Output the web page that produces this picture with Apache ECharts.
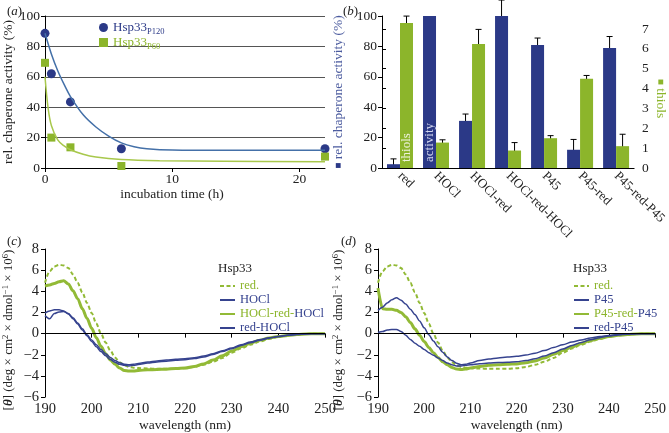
<!DOCTYPE html>
<html>
<head>
<meta charset="utf-8">
<script src="https://cdn.jsdelivr.net/npm/echarts@6/dist/echarts.min.js"></script>
<style>
html, body { margin: 0; padding: 0; background: #fff; }
#main { width: 669px; height: 433px; }
</style>
</head>
<body>
<div id="main"></div>
<script>
// (a) chaperone activity after incubation
var timeH = [0, 0.5, 2, 6, 22];
var p120 = [88.6, 62, 43.5, 12.7, 12.7];
var p60 = [69.2, 20, 13.6, 1.3, 7.5];
// fitted curves
var fitP120Time = [0, 0.5, 1, 1.5, 2, 3, 4, 5, 6, 7, 8, 10, 14, 22];
var fitP120 = [88.6, 75, 64, 55, 47, 35, 27, 21, 16.5, 14, 12.7, 11.8, 11.6, 11.6];
var fitP60Time = [0, 0.25, 0.5, 1, 1.5, 2, 3, 4, 6, 9, 14, 22];
var fitP60 = [60, 39, 28, 18.5, 14.5, 12, 9, 7.2, 5.6, 4.8, 4.4, 4.1];
var timeTicks = [0, 10, 20];

// (b) activity and thiols per condition
var conditions = ['red', 'HOCl', 'HOCl-red', 'HOCl-red-HOCl', 'P45', 'P45-red', 'P45-red-P45'];
var activity = [2.5, 100, 31, 100, 81, 12, 79];
var activityErr = [3.5, 0, 4.5, 10.5, 4.5, 6.8, 7.5];
var thiols = [7.3, 1.28, 6.25, 0.88, 1.5, 4.5, 1.1];
var thiolsErr = [0.35, 0.14, 0.73, 0.4, 0.13, 0.16, 0.6];

// (c), (d) CD spectra
var wavelength = [190, 191, 192, 193, 194, 195, 196, 197, 198, 199, 200, 201, 202, 203, 204, 205, 206, 207, 208, 209, 210,
  212, 214, 216, 218, 220, 222, 224, 226, 228, 230, 232, 234, 236, 238, 240, 242, 244, 246, 248, 250];
var cdRed = [4.8, 5.9, 6.35, 6.5, 6.45, 6.2, 5.6, 4.8, 3.9, 2.9, 1.95, 0.95, 0.0, -0.85, -1.6, -2.25, -2.7, -3.0, -3.15, -3.22, -3.26,
  -3.3, -3.32, -3.33, -3.32, -3.27, -3.15, -2.95, -2.65, -2.3, -1.8, -1.4, -1.05, -0.75, -0.5, -0.3, -0.16, -0.07, -0.03, -0.01, 0];
var cdHOCl = [1.7, 1.4, 1.9, 2.05, 2.1, 1.9, 1.5, 1.0, 0.45, -0.1, -0.6, -1.05, -1.5, -1.9, -2.25, -2.55, -2.75, -2.9, -2.95, -2.9, -2.82,
  -2.68, -2.58, -2.5, -2.43, -2.37, -2.28, -2.12, -1.9, -1.62, -1.35, -1.05, -0.8, -0.58, -0.4, -0.26, -0.15, -0.07, -0.03, -0.01, 0];
var cdHOClRedHOCl = [4.5, 4.6, 4.75, 4.9, 5.0, 4.7, 4.05, 3.3, 2.35, 1.45, 0.5, -0.4, -1.2, -1.9, -2.5, -2.9, -3.25, -3.48, -3.54, -3.54, -3.48,
  -3.42, -3.39, -3.36, -3.3, -3.26, -3.1, -2.86, -2.5, -2.1, -1.65, -1.25, -0.9, -0.62, -0.42, -0.28, -0.17, -0.08, -0.03, -0.01, 0];
var cdRedHOCl = [1.95, 2.15, 2.25, 2.25, 2.15, 1.85, 1.4, 0.9, 0.35, -0.2, -0.75, -1.25, -1.7, -2.1, -2.45, -2.7, -2.9, -3.0, -3.05, -3.0, -2.92,
  -2.78, -2.68, -2.6, -2.52, -2.46, -2.36, -2.2, -1.97, -1.7, -1.42, -1.12, -0.86, -0.62, -0.43, -0.28, -0.16, -0.08, -0.03, -0.01, 0];
var cdP45 = [2.2, 2.5, 2.9, 3.2, 3.4, 3.15, 2.8, 2.3, 1.8, 1.2, 0.55, -0.1, -0.7, -1.25, -1.75, -2.2, -2.55, -2.8, -2.95, -2.9, -2.78,
  -2.55, -2.4, -2.3, -2.22, -2.15, -2.02, -1.85, -1.6, -1.32, -1.05, -0.8, -0.6, -0.42, -0.28, -0.17, -0.09, -0.04, -0.02, 0, 0];
var cdP45RedP45 = [4.3, 2.35, 2.3, 2.3, 2.2, 2.0, 1.6, 1.05, 0.45, -0.15, -0.75, -1.3, -1.8, -2.25, -2.65, -2.95, -3.2, -3.35, -3.4, -3.35, -3.25,
  -3.1, -3.0, -2.95, -2.9, -2.86, -2.76, -2.58, -2.3, -1.96, -1.6, -1.25, -0.93, -0.65, -0.44, -0.28, -0.16, -0.08, -0.03, -0.01, 0];
var cdRedP45 = [0.1, 0.2, 0.35, 0.4, 0.4, 0.2, -0.15, -0.55, -0.9, -1.2, -1.5, -1.8, -2.05, -2.3, -2.55, -2.78, -2.95, -3.05, -3.05, -3.0, -2.95,
  -2.85, -2.78, -2.74, -2.7, -2.65, -2.55, -2.38, -2.12, -1.8, -1.45, -1.12, -0.83, -0.58, -0.38, -0.23, -0.12, -0.05, -0.02, 0, 0];
var thiolTicks = [0, 1, 2, 3, 4, 5, 6, 7];

var font = 'Liberation Serif';
var navy = '#2b3987';
var green = '#8cb52b';
var lineBlue = '#36438f';
var lineGreen = '#92ba36';
var ink = '#222';

function pairs(xs, ys) {
  return xs.map(function (x, i) { return [x, ys[i]]; });
}
function minus(v) {
  return String(v).replace('-', '\u2212');
}

var myChart = echarts.init(document.getElementById('main'));

var tickFont = { fontFamily: font, fontSize: 13.5, color: ink };
var cdTickFont = { fontFamily: font, fontSize: 14.5, color: ink, formatter: minus };
var blackLine = { show: true, lineStyle: { color: '#000', width: 1 } };
var nameFont = { fontFamily: font, fontSize: 13.5, color: ink };

function errorBars(offset) {
  return function (params, api) {
    var i = api.value(0), v = api.value(1), e = api.value(2);
    if (!e) return;
    var top = api.coord([i, v + e]);
    var bot = api.coord([i, Math.max(v - e, 0)]);
    var x = top[0] + offset;
    var st = { stroke: '#000', lineWidth: 1 };
    return {
      type: 'group',
      children: [
        { type: 'line', shape: { x1: x, y1: top[1], x2: x, y2: bot[1] }, style: st },
        { type: 'line', shape: { x1: x - 3, y1: top[1], x2: x + 3, y2: top[1] }, style: st },
        { type: 'line', shape: { x1: x - 3, y1: bot[1], x2: x + 3, y2: bot[1] }, style: st }
      ]
    };
  };
}

var cdAxisName = '[{it|\u03b8}] (deg \u00d7 cm{sup|2} \u00d7 dmol{sup|\u22121} \u00d7 10{sup|6})';
var cdNameStyle = {
  fontFamily: font, fontSize: 13, color: ink, lineHeight: 16, padding: [0, 14, 0, 0],
  rich: {
    it: { fontFamily: font, fontSize: 13, fontStyle: 'italic', fontWeight: 'bold', color: ink, lineHeight: 16 },
    sup: { fontFamily: font, fontSize: 8.5, color: ink, verticalAlign: 'top', lineHeight: 16 }
  }
};

var legendRich = {
  g: { fontFamily: font, fontSize: 12.5, color: green, lineHeight: 14 },
  b: { fontFamily: font, fontSize: 12.5, color: lineBlue, lineHeight: 14 }
};

option = {
  animation: false,
  backgroundColor: '#fff',
  title: [
    { text: '({i|a})', left: 2, top: 0 },
    { text: '({i|b})', left: 338, top: 0 },
    { text: '({i|c})', left: 2, top: 230 },
    { text: '({i|d})', left: 336, top: 230 },
    { text: 'Hsp33', left: 213, top: 257 },
    { text: 'Hsp33', left: 568, top: 257 }
  ].map(function (t) {
    t.textStyle = { fontFamily: font, fontSize: 13, fontWeight: 'normal', color: ink,
      rich: { i: { fontFamily: font, fontSize: 13, fontStyle: 'italic', color: ink } } };
    return t;
  }),
  legend: [
    {
      left: 94, top: 16, orient: 'vertical', selectedMode: false,
      itemWidth: 9, itemHeight: 9, itemGap: 0,
      itemStyle: { opacity: 1 },
      data: [{ name: 'Hsp33 P120', textStyle: { color: navy } }, { name: 'Hsp33 P60', textStyle: { color: green } }],
      formatter: function (n) {
        var p = n.split(' ');
        return '{m|' + p[0] + '}{s|' + p[1] + '}';
      },
      textStyle: {
        fontFamily: font, fontSize: 13,
        rich: {
          m: { fontFamily: font, fontSize: 13, lineHeight: 15 },
          s: { fontFamily: font, fontSize: 8.5, lineHeight: 17, verticalAlign: 'bottom' }
        }
      }
    },
    {
      left: 214, top: 274, orient: 'vertical', selectedMode: false,
      itemWidth: 15, itemHeight: 14, itemGap: 0,
      itemStyle: { opacity: 0 },
      data: [
        { name: 'red.', textStyle: { color: green } },
        { name: 'HOCl', textStyle: { color: lineBlue } },
        { name: 'HOCl-red-HOCl' },
        { name: 'red-HOCl', textStyle: { color: lineBlue } }
      ],
      formatter: function (n) {
        return n === 'HOCl-red-HOCl' ? '{g|HOCl-red-}{b|HOCl}' : n;
      },
      textStyle: { fontFamily: font, fontSize: 12.5, lineHeight: 14, rich: legendRich }
    },
    {
      left: 568, top: 274, orient: 'vertical', selectedMode: false,
      itemWidth: 15, itemHeight: 14, itemGap: 0,
      itemStyle: { opacity: 0 },
      data: [
        { name: 'red. ', textStyle: { color: green } },
        { name: 'P45', textStyle: { color: lineBlue } },
        { name: 'P45-red-P45' },
        { name: 'red-P45', textStyle: { color: lineBlue } }
      ],
      formatter: function (n) {
        return n === 'P45-red-P45' ? '{g|P45-red-}{b|P45}' : n;
      },
      textStyle: { fontFamily: font, fontSize: 12.5, lineHeight: 14, rich: legendRich }
    }
  ],
  grid: [
    { left: 45, top: 16, width: 280, height: 152 },
    { left: 382, top: 16, width: 256, height: 152 },
    { left: 382, top: 29, width: 256, height: 139 },
    { left: 45, top: 249, width: 280, height: 152 },
    { left: 378, top: 249, width: 278, height: 152 }
  ],
  xAxis: [
    {
      gridIndex: 0, type: 'value', min: 0, max: 22,
      axisLine: blackLine,
      axisTick: { show: true, length: 4, customValues: timeTicks, lineStyle: { color: '#000' } },
      axisLabel: Object.assign({ customValues: timeTicks, margin: 4 }, tickFont),
      splitLine: { show: false },
      name: 'incubation time (h)', nameLocation: 'middle', nameGap: 19,
      nameTextStyle: Object.assign({ padding: [0, 26, 0, 0] }, nameFont)
    },
    {
      gridIndex: 1, type: 'category', data: conditions,
      axisLine: blackLine,
      axisTick: { show: false },
      axisLabel: Object.assign({ rotate: -45, interval: 0, margin: 6 }, tickFont, { fontSize: 13 })
    },
    { gridIndex: 2, type: 'value', min: 0, max: 1, show: false },
    {
      gridIndex: 3, type: 'value', min: 190, max: 250, interval: 10,
      axisLine: blackLine,
      axisTick: { show: true, length: 4, lineStyle: { color: '#000' } },
      axisLabel: Object.assign({ margin: 5 }, cdTickFont),
      splitLine: { show: false },
      name: 'wavelength (nm)', nameLocation: 'middle', nameGap: 20, nameTextStyle: nameFont
    },
    {
      gridIndex: 4, type: 'value', min: 190, max: 250, interval: 10,
      axisLine: blackLine,
      axisTick: { show: true, length: 4, lineStyle: { color: '#000' } },
      axisLabel: Object.assign({ margin: 5 }, cdTickFont),
      splitLine: { show: false },
      name: 'wavelength (nm)', nameLocation: 'middle', nameGap: 20, nameTextStyle: nameFont
    }
  ],
  yAxis: [
    {
      gridIndex: 0, type: 'value', min: 0, max: 100, interval: 20,
      axisLine: blackLine,
      axisTick: { show: true, length: 4, lineStyle: { color: '#000' } },
      axisLabel: Object.assign({ margin: 5 }, tickFont),
      splitLine: { show: true, lineStyle: { color: '#555', width: 1 } },
      name: 'rel. chaperone activity (%)', nameLocation: 'middle', nameGap: 29, nameTextStyle: nameFont
    },
    {
      gridIndex: 1, type: 'value', min: 0, max: 100, interval: 20,
      axisLine: blackLine,
      axisTick: { show: true, length: 4, lineStyle: { color: '#000' } },
      axisLabel: Object.assign({ margin: 5 }, tickFont),
      splitLine: { show: false },
      name: '{sq|\u25a0} {t|rel. chaperone activity (%)}', nameLocation: 'middle', nameGap: 37,
      nameTextStyle: Object.assign({
        rich: {
          sq: { color: navy, fontSize: 10 },
          t: { fontFamily: font, fontSize: 13.5, color: '#4a5a9e' }
        }
      }, nameFont)
    },
    // hidden scale for the thiol bars, stretched to the full grid height
    { gridIndex: 1, type: 'value', position: 'right', min: 0, max: 7 * 152 / 139, show: false },
    {
      gridIndex: 2, type: 'value', position: 'right', min: 0, max: 7, interval: 1,
      axisLine: blackLine,
      axisTick: { show: true, length: 4, customValues: thiolTicks, lineStyle: { color: '#000' } },
      axisLabel: Object.assign({ margin: 5 }, tickFont),
      splitLine: { show: false },
      name: '{sq|\u25a0} {t|thiols}', nameLocation: 'middle', nameGap: 17, nameRotate: -90,
      nameTextStyle: Object.assign({
        rich: {
          sq: { color: green, fontSize: 10 },
          t: { fontFamily: font, fontSize: 13.5, color: green }
        }
      }, nameFont)
    },
    {
      gridIndex: 3, type: 'value', min: -6, max: 8, interval: 2,
      axisLine: blackLine,
      axisTick: { show: true, length: 4, lineStyle: { color: '#000' } },
      axisLabel: Object.assign({ margin: 6 }, cdTickFont),
      splitLine: { show: false },
      name: cdAxisName, nameLocation: 'middle', nameGap: 28, nameTextStyle: cdNameStyle
    },
    {
      gridIndex: 4, type: 'value', min: -6, max: 8, interval: 2,
      axisLine: blackLine,
      axisTick: { show: true, length: 4, lineStyle: { color: '#000' } },
      axisLabel: Object.assign({ margin: 6 }, cdTickFont),
      splitLine: { show: false },
      name: cdAxisName, nameLocation: 'middle', nameGap: 31, nameTextStyle: cdNameStyle
    }
  ],
  series: []
};

// (a)
option.series.push(
  { type: 'line', xAxisIndex: 0, yAxisIndex: 0, data: pairs(fitP120Time, fitP120), smooth: 0.35,
    symbol: 'none', silent: true, lineStyle: { color: '#4470a8', width: 1.5 } },
  { type: 'line', xAxisIndex: 0, yAxisIndex: 0, data: pairs(fitP60Time, fitP60), smooth: 0.35,
    symbol: 'none', silent: true, lineStyle: { color: '#a8c84c', width: 1.5 } },
  { name: 'Hsp33 P120', type: 'scatter', xAxisIndex: 0, yAxisIndex: 0, data: pairs(timeH, p120),
    symbol: 'circle', symbolSize: 9, itemStyle: { color: navy, opacity: 1 } },
  { name: 'Hsp33 P60', type: 'scatter', xAxisIndex: 0, yAxisIndex: 0, data: pairs(timeH, p60),
    symbol: 'rect', symbolSize: 8, itemStyle: { color: green, opacity: 1 } }
);

// (b)
var barLabel = { show: true, position: 'insideBottom', rotate: 90, align: 'left', verticalAlign: 'middle',
  distance: 6, fontFamily: font, fontSize: 13 };
option.series.push(
  { name: 'activity', type: 'bar', xAxisIndex: 1, yAxisIndex: 1, barWidth: 13, barGap: '0%',
    itemStyle: { color: navy },
    data: activity.map(function (v, i) {
      return i === 1 ? { value: v, label: Object.assign({ formatter: 'activity', color: '#d4d8ef' }, barLabel) } : v;
    }) },
  { name: 'thiols', type: 'bar', xAxisIndex: 1, yAxisIndex: 2, barWidth: 13, barGap: '0%',
    itemStyle: { color: green },
    data: thiols.map(function (v, i) {
      return i === 0 ? { value: v, label: Object.assign({ formatter: 'thiols', color: '#eef3dc' }, barLabel) } : v;
    }) },
  { type: 'custom', xAxisIndex: 1, yAxisIndex: 1, silent: true, renderItem: errorBars(-6.5),
    data: activity.map(function (v, i) { return [i, v, activityErr[i]]; }) },
  { type: 'custom', xAxisIndex: 1, yAxisIndex: 2, silent: true, renderItem: errorBars(6.5),
    data: thiols.map(function (v, i) { return [i, v, thiolsErr[i]]; }) }
);

// (c) and (d)
function cdLine(name, ax, values, color, width, dashed) {
  return {
    name: name, type: 'line', xAxisIndex: ax, yAxisIndex: ax + 1,
    data: pairs(wavelength, values), smooth: 0.3, smoothMonotone: 'x', symbol: 'none', silent: true,
    itemStyle: { color: color, opacity: 0 },
    lineStyle: { color: color, width: width, opacity: 1, type: dashed ? [4, 2.5] : 'solid' }
  };
}
var zeroLine = { silent: true, symbol: 'none', label: { show: false },
  lineStyle: { color: '#000', width: 1, type: 'solid', opacity: 1 }, data: [{ yAxis: 0 }] };

var cRed = cdLine('red.', 3, cdRed, lineGreen, 2, true);
cRed.markLine = zeroLine;
var dRed = cdLine('red. ', 4, cdRed, lineGreen, 2, true);
dRed.markLine = zeroLine;
option.series.push(
  cRed,
  cdLine('HOCl-red-HOCl', 3, cdHOClRedHOCl, lineGreen, 3, false),
  cdLine('HOCl', 3, cdHOCl, lineBlue, 1.5, false),
  cdLine('red-HOCl', 3, cdRedHOCl, lineBlue, 1.5, false),
  dRed,
  cdLine('P45-red-P45', 4, cdP45RedP45, lineGreen, 3, false),
  cdLine('P45', 4, cdP45, lineBlue, 1.5, false),
  cdLine('red-P45', 4, cdRedP45, lineBlue, 1.5, false)
);

if (option && typeof option === "object") {
  myChart.setOption(option, true);
}
</script>
</body>
</html>
